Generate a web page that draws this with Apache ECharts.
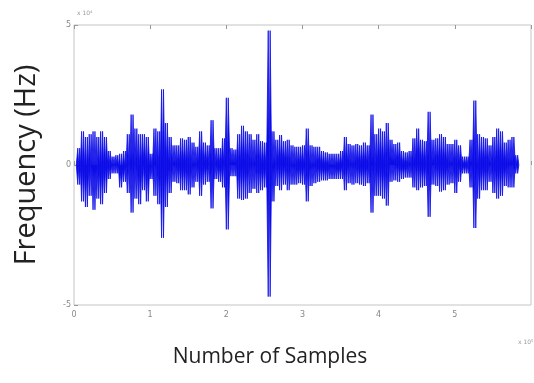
<!DOCTYPE html>
<html>
<head>
<meta charset="utf-8">
<script src="https://cdn.jsdelivr.net/npm/echarts@6/dist/echarts.min.js"></script>
<style>
  html, body { margin: 0; padding: 0; background: #fff; }
  #chart { width: 534px; height: 383px; }
</style>
</head>
<body>
<div id="chart"></div>
<script>
// envelope of the waveform, read column by column (x step 0.05, from 0.05)
const xStart = 0.05;
const xStep = 0.05;
const upperEnv = [
  0.6, 1.2, 1.0, 1.1, 1.2, 1.0, 1.2, 1.0, 0.5, 0.3,
  0.35, 0.4, 0.5, 1.1, 1.8, 1.3, 1.1, 1.1, 1.0, 0.4,
  1.3, 1.2, 2.7, 1.5, 1.0, 0.7, 0.7, 0.95, 0.9, 1.0,
  0.8, 0.65, 1.2, 0.8, 0.7, 1.6, 0.6, 0.6, 0.95, 2.4,
  0.6, 0.55, 1.1, 1.4, 1.2, 1.1, 0.9, 1.1, 0.85, 0.8,
  4.8, 1.2, 0.9, 1.07, 0.85, 0.9, 0.7, 0.65, 0.65, 0.7,
  1.3, 0.7, 0.65, 0.65, 0.5, 0.45, 0.4, 0.4, 0.4, 0.5,
  1.0, 0.75, 0.7, 0.75, 0.7, 0.8, 0.7, 1.8, 1.1, 1.3,
  1.2, 1.5, 0.9, 0.75, 0.8, 0.5, 0.45, 0.5, 0.95, 1.3,
  0.9, 0.85, 1.9, 0.9, 0.95, 1.1, 1.0, 0.75, 0.75, 0.9,
  0.7, 0.3, 0.3, 0.9, 2.3, 1.1, 1.0, 0.95, 0.7, 1.0,
  1.3, 1.2, 0.8, 0.9, 1.0, 0.35
];
const lowerEnv = [
  -0.7, -1.3, -1.5, -1.1, -1.6, -1.2, -1.4, -1.0, -0.5, -0.3,
  -0.3, -0.8, -0.6, -1.0, -1.7, -1.2, -1.4, -0.9, -1.3, -0.5,
  -1.1, -1.4, -2.6, -1.5, -1.0, -0.6, -0.65, -0.9, -0.9, -1.05,
  -0.8, -0.6, -1.1, -0.7, -0.6, -1.55, -0.5, -0.6, -0.8, -2.3,
  -0.4, -0.4, -1.2, -1.25, -1.2, -1.0, -0.85, -1.0, -0.9, -0.8,
  -4.7, -1.3, -0.75, -0.9, -0.7, -0.9, -0.7, -0.7, -0.65, -0.7,
  -1.3, -0.75, -0.65, -0.6, -0.55, -0.55, -0.5, -0.5, -0.5, -0.5,
  -0.9, -0.65, -0.7, -0.65, -0.7, -0.75, -0.65, -1.7, -1.1, -1.1,
  -1.2, -1.45, -0.6, -0.55, -0.6, -0.5, -0.45, -0.45, -0.8, -0.9,
  -0.8, -0.75, -1.85, -0.7, -0.75, -0.95, -0.9, -0.7, -0.65, -1.0,
  -0.6, -0.3, -0.3, -0.8, -2.25, -1.2, -0.9, -0.9, -0.6, -1.0,
  -1.2, -1.1, -0.75, -0.8, -0.8, -0.3
];
const xTicks = [0, 1, 2, 3, 4, 5, 6];
const yTicks = [-5, 0, 5];

// two zigzags between the envelopes so it reads as a dense waveform
const waveA = [[0.03, 0]];
const waveB = [[0.03, 0]];
upperEnv.forEach((u, i) => {
  const x = xStart + i * xStep;
  waveA.push([x, u]);
  waveA.push([x + xStep / 2, lowerEnv[i]]);
  waveB.push([x, lowerEnv[i]]);
  waveB.push([x + xStep / 2, u]);
});
waveA.push([5.84, 0]);
waveB.push([5.84, 0]);

const chart = echarts.init(document.getElementById('chart'));

const tickStyle = { show: true, inside: true, length: 4, lineStyle: { color: '#999' } };
const blue = '#0c0ce8';

const waveSeries = (data) => ({
  type: 'line',
  data: data,
  showSymbol: false,
  sampling: null,
  lineStyle: { color: blue, width: 0.8 },
  areaStyle: { color: blue, opacity: 1 },
  z: 3
});

chart.setOption({
  animation: false,
  backgroundColor: '#fff',
  grid: {
    left: 74, top: 25, right: 1, bottom: 78,
    show: true, borderColor: '#c4c4c4', borderWidth: 1
  },
  xAxis: [
    {
      type: 'value',
      min: xTicks[0], max: xTicks[xTicks.length - 1], interval: 1,
      axisLine: { show: false },
      axisTick: tickStyle,
      splitLine: { show: false },
      axisLabel: {
        color: '#888', fontSize: 8, margin: 6, fontFamily: 'DejaVu Sans',
        formatter: (v) => (v === 6 ? '' : String(v))
      }
    },
    {
      type: 'value', position: 'top',
      min: xTicks[0], max: xTicks[xTicks.length - 1], interval: 1,
      axisLine: { show: false },
      axisTick: tickStyle,
      splitLine: { show: false },
      axisLabel: { show: false }
    }
  ],
  yAxis: {
    type: 'value',
    min: yTicks[0], max: yTicks[yTicks.length - 1], interval: 5,
    axisLine: { show: false },
    axisTick: tickStyle,
    splitLine: { show: false },
    axisLabel: { color: '#888', fontSize: 8, margin: 3, fontFamily: 'DejaVu Sans' }
  },
  series: [waveSeries(waveA), waveSeries(waveB)],
  graphic: [
    {
      type: 'text', left: 77, top: 10,
      style: { text: 'x 10⁴', fill: '#999', font: '6px DejaVu Sans' }
    },
    {
      type: 'text', left: 518, top: 339,
      style: { text: 'x 10⁵', fill: '#999', font: '6px DejaVu Sans' }
    },
    {
      type: 'text',
      x: 27, y: 165, rotation: Math.PI / 2,
      style: {
        text: 'Frequency (Hz)', fill: '#222',
        font: '29px "Open Sans"', align: 'center', verticalAlign: 'middle'
      }
    },
    {
      type: 'text',
      x: 270, y: 357,
      style: {
        text: 'Number of Samples', fill: '#222',
        font: '21px "Open Sans"', align: 'center', verticalAlign: 'middle'
      }
    }
  ]
});
</script>
</body>
</html>
